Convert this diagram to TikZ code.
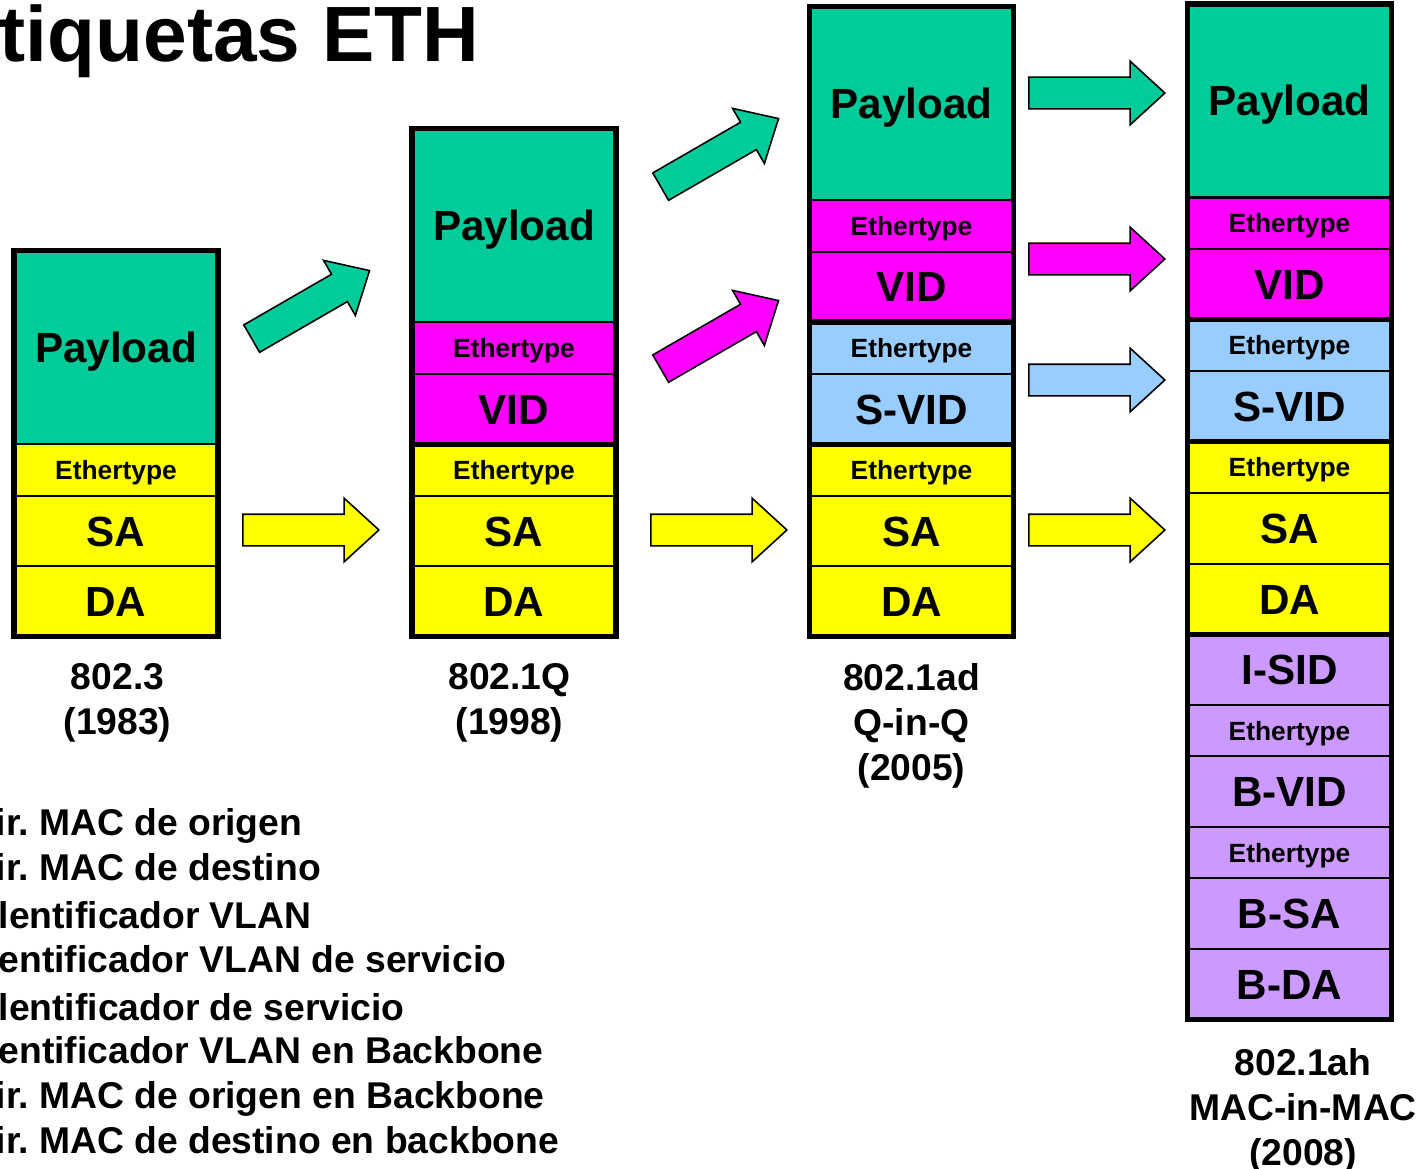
\documentclass[tikz,border=0pt]{standalone}
\usepackage{fontspec}
\setmainfont{Liberation Sans}
\usepackage{tikz}
\usetikzlibrary{positioning, shapes.arrows}
\definecolor{payteal}{RGB}{0,204,153}
\definecolor{tagyellow}{RGB}{255,255,0}
\definecolor{tagpink}{RGB}{255,0,255}
\definecolor{tagblue}{RGB}{153,204,255}
\definecolor{taglilac}{RGB}{204,153,255}
\frenchspacing

\begin{document}
\begin{tikzpicture}[x=0.01cm, y=-0.01cm,
  field/.style={draw, line width=0.6pt, minimum width=2.04cm, inner sep=0pt, outer sep=0pt,
    text height=8.6pt, text depth=0pt, font=\bfseries\fontsize{12}{14}\selectfont},
  pay/.style={field, fill=payteal, minimum height=1.935cm},
  tag/.style={field, minimum height=0.705cm},
  etype/.style={field, minimum height=0.515cm, text height=5.4pt,
    font=\bfseries\fontsize{7.5}{9}\selectfont},
  frame/.style={line width=1.5pt},
  fwd/.style={single arrow, draw, line width=0.45pt, inner xsep=0pt, inner ysep=0.15cm,
    minimum height=1.36cm, single arrow head extend=0.16cm, single arrow tip angle=85, anchor=tail},
  std/.style={font=\bfseries\fontsize{10.6}{12.8}\selectfont, align=center, inner sep=0pt},
  legend/.style={font=\bfseries\fontsize{10.6}{12.8}\selectfont, anchor=base west, inner sep=0pt}
]
  \useasboundingbox (0,0) rectangle (1423,1169);

  \node[anchor=base west, inner sep=0pt, font=\bfseries\fontsize{22.3}{26}\selectfont] (title) at (-1,61) {tiquetas ETH};

  % 802.3
  \node[tag, fill=tagyellow] (c1da) at (116,601.5) {DA};
  \node[tag, fill=tagyellow, above=0pt of c1da] (c1sa) {SA};
  \node[etype, fill=tagyellow, above=0pt of c1sa] (c1eth) {Ethertype};
  \node[pay, above=0pt of c1eth] (c1pay) {Payload};
  \draw[frame] (c1pay.north west) rectangle (c1da.south east);
  \node[std, below=0.26cm of c1da, xshift=0.015cm] (std1) {802.3\\(1983)};

  % 802.1Q
  \node[tag, fill=tagyellow] (c2da) at (514,601.5) {DA};
  \node[tag, fill=tagyellow, above=0pt of c2da] (c2sa) {SA};
  \node[etype, fill=tagyellow, above=0pt of c2sa] (c2eth) {Ethertype};
  \node[tag, fill=tagpink, above=0pt of c2eth] (c2vid) {VID};
  \node[etype, fill=tagpink, above=0pt of c2vid] (c2veth) {Ethertype};
  \node[pay, above=0pt of c2veth] (c2pay) {Payload};
  \draw[frame] (c2pay.north west) rectangle (c2da.south east);
  \draw[frame] (c2vid.south west) -- (c2vid.south east);
  \node[std, below=0.26cm of c2da, xshift=-0.045cm] (std2) {802.1Q\\(1998)};

  % 802.1ad
  \node[tag, fill=tagyellow] (c3da) at (911.5,601.5) {DA};
  \node[tag, fill=tagyellow, above=0pt of c3da] (c3sa) {SA};
  \node[etype, fill=tagyellow, above=0pt of c3sa] (c3eth) {Ethertype};
  \node[tag, fill=tagblue, above=0pt of c3eth] (c3svid) {S-VID};
  \node[etype, fill=tagblue, above=0pt of c3svid] (c3seth) {Ethertype};
  \node[tag, fill=tagpink, above=0pt of c3seth] (c3vid) {VID};
  \node[etype, fill=tagpink, above=0pt of c3vid] (c3veth) {Ethertype};
  \node[pay, above=0pt of c3veth] (c3pay) {Payload};
  \draw[frame] (c3pay.north west) rectangle (c3da.south east);
  \draw[frame] (c3vid.south west) -- (c3vid.south east);
  \draw[frame] (c3svid.south west) -- (c3svid.south east);
  \node[std, below=0.26cm of c3da] (std3) {802.1ad\\Q-in-Q\\(2005)};

  % 802.1ah
  \node[tag, fill=tagyellow] (c4da) at (1289.5,599) {DA};
  \node[tag, fill=tagyellow, above=0pt of c4da] (c4sa) {SA};
  \node[etype, fill=tagyellow, above=0pt of c4sa] (c4eth) {Ethertype};
  \node[tag, fill=tagblue, above=0pt of c4eth] (c4svid) {S-VID};
  \node[etype, fill=tagblue, above=0pt of c4svid] (c4seth) {Ethertype};
  \node[tag, fill=tagpink, above=0pt of c4seth] (c4vid) {VID};
  \node[etype, fill=tagpink, above=0pt of c4vid] (c4veth) {Ethertype};
  \node[pay, above=0pt of c4veth] (c4pay) {Payload};
  \node[tag, fill=taglilac, below=0pt of c4da] (c4isid) {I-SID};
  \node[etype, fill=taglilac, below=0pt of c4isid] (c4ieth) {Ethertype};
  \node[tag, fill=taglilac, below=0pt of c4ieth] (c4bvid) {B-VID};
  \node[etype, fill=taglilac, below=0pt of c4bvid] (c4beth) {Ethertype};
  \node[tag, fill=taglilac, below=0pt of c4beth] (c4bsa) {B-SA};
  \node[tag, fill=taglilac, below=0pt of c4bsa] (c4bda) {B-DA};
  \draw[frame] (c4pay.north west) rectangle (c4bda.south east);
  \draw[frame] (c4vid.south west) -- (c4vid.south east);
  \draw[frame] (c4svid.south west) -- (c4svid.south east);
  \draw[frame] (c4da.south west) -- (c4da.south east);
  \node[std, below=0.28cm of c4bda, xshift=0.135cm] (std4) {802.1ah\\MAC-in-MAC\\(2008)};

  % block arrows between the frames
  \node[fwd, fill=tagyellow] (a1sa) at (242,530) {};
  \node[fwd, fill=payteal, rotate=30] (a1pay) at (251,339) {};
  \node[fwd, fill=tagyellow] (a2sa) at (650,530) {};
  \node[fwd, fill=payteal, rotate=30] (a2pay) at (660,187) {};
  \node[fwd, fill=tagpink, rotate=30] (a2vid) at (660,369) {};
  \node[fwd, fill=tagyellow] (a3sa) at (1028,530) {};
  \node[fwd, fill=payteal] (a3pay) at (1028,93) {};
  \node[fwd, fill=tagpink] (a3vid) at (1028,259) {};
  \node[fwd, fill=tagblue] (a3svid) at (1028,380) {};

  % field names
  \node[legend] (leg1) at (-5,835) {ir. MAC de origen};
  \node[legend] (leg2) at (-5,880) {ir. MAC de destino};
  \node[legend] (leg3) at (-2,928) {lentificador VLAN};
  \node[legend] (leg4) at (-2,972) {entificador VLAN de servicio};
  \node[legend] (leg5) at (-2,1020) {lentificador de servicio};
  \node[legend] (leg6) at (-2,1063) {entificador VLAN en Backbone};
  \node[legend] (leg7) at (-5,1108) {ir. MAC de origen en Backbone};
  \node[legend] (leg8) at (-5,1153) {ir. MAC de destino en backbone};
\end{tikzpicture}
\end{document}
